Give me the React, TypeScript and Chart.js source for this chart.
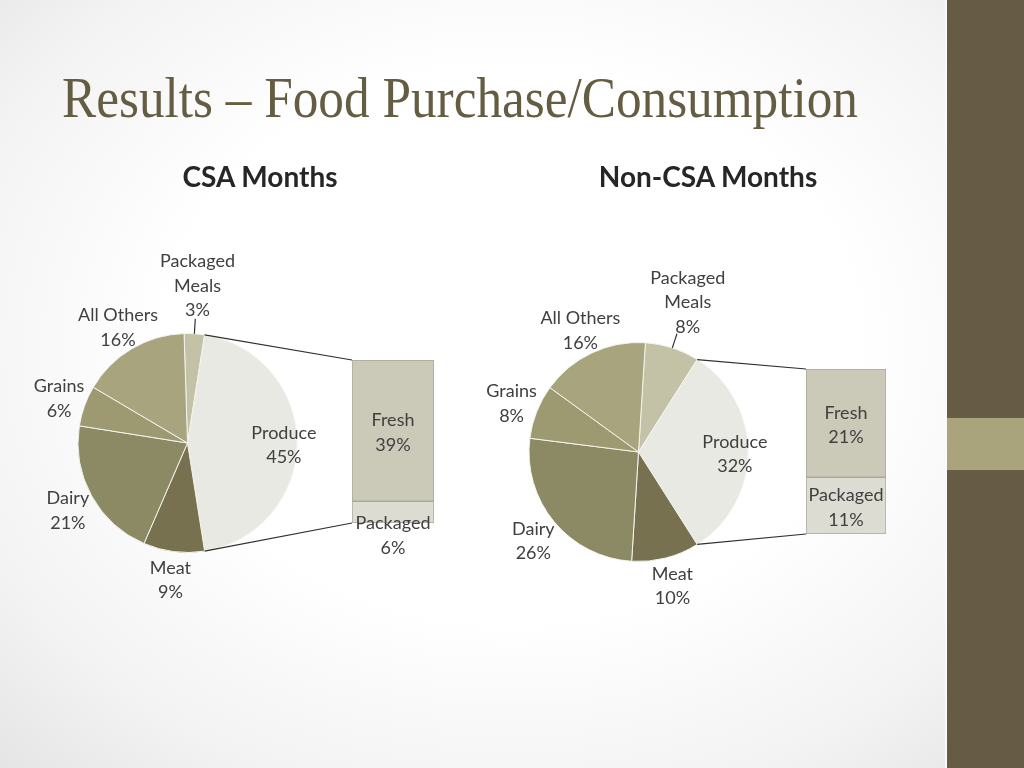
import React, { useEffect, useLayoutEffect, useRef } from 'react';
import { Chart, registerables } from 'chart.js';

Chart.register(...registerables);

// ---------- data ----------
const TITLE = 'Results – Food Purchase/Consumption';
const CHART_TITLES = ['CSA Months', 'Non-CSA Months'];
const CATEGORIES = ['Packaged Meals', 'Produce', 'Meat', 'Dairy', 'Grains', 'All Others'];
const CSA_VALUES = [3, 45, 9, 21, 6, 16];
const NON_CSA_VALUES = [8, 32, 10, 26, 8, 16];
const PRODUCE_PARTS = ['Fresh', 'Packaged'];
const CSA_PRODUCE_VALUES = [39, 6];
const NON_CSA_PRODUCE_VALUES = [21, 11];
const SPLIT_CATEGORY = 'Produce';

// ---------- style ----------
const W = 1024;
const H = 768;
const SLICE_COLORS = ['#c3c2a7', '#e9e9e4', '#77714f', '#8b8a64', '#9d9a72', '#a8a47d'];
const PART_COLORS = ['#cbc9b8', '#dddcd2'];
const LABEL_FONT = '18px Lato';
const LABEL_COLOR = '#404040';
const LINE_H = 24.5;

const GROUPS = [
  {
    title: CHART_TITLES[0],
    values: CSA_VALUES,
    parts: CSA_PRODUCE_VALUES,
    titleX: 260,
    pie: { left: 77.5, top: 333, size: 220 },
    bar: { left: 352, top: 360, width: 82, height: 163 },
  },
  {
    title: CHART_TITLES[1],
    values: NON_CSA_VALUES,
    parts: NON_CSA_PRODUCE_VALUES,
    titleX: 708,
    pie: { left: 528.5, top: 342, size: 220 },
    bar: { left: 806, top: 369, width: 80, height: 165 },
  },
];

function wrapName(name: string): string[] {
  if (name.length > 10 && name.includes(' ')) return name.split(' ');
  return [name];
}

function drawLines(ctx: CanvasRenderingContext2D, lines: string[], cx: number, cy: number) {
  const top = cy - (lines.length * LINE_H) / 2;
  lines.forEach((l, i) => ctx.fillText(l, cx, top + LINE_H * (i + 0.5)));
}

function PieOfBar({ group }: { group: (typeof GROUPS)[number] }) {
  const pieRef = useRef<HTMLCanvasElement>(null);
  const barRef = useRef<HTMLCanvasElement>(null);

  useEffect(() => {
    const splitIndex = CATEGORIES.indexOf(SPLIT_CATEGORY);
    const total = group.values.reduce((a, b) => a + b, 0);
    const before = group.values.slice(0, splitIndex).reduce((a, b) => a + b, 0);
    const rotation = 90 - ((before + group.values[splitIndex] / 2) / total) * 360;
    const partTotal = group.parts.reduce((a, b) => a + b, 0);

    // ---- bar (stacked) ----
    const order = PRODUCE_PARTS.map((_, i) => i).reverse();
    const barLabelPlugin = {
      id: 'barLabels',
      afterDatasetsDraw(chart: any) {
        const ctx = chart.ctx as CanvasRenderingContext2D;
        ctx.save();
        ctx.font = LABEL_FONT;
        ctx.fillStyle = LABEL_COLOR;
        ctx.textAlign = 'center';
        ctx.textBaseline = 'middle';
        chart.data.datasets.forEach((ds: any, di: number) => {
          const el = chart.getDatasetMeta(di).data[0] as any;
          const segTop = Math.min(el.y, el.base);
          const segBot = Math.max(el.y, el.base);
          const lines = [ds.label, ds.data[0] + '%'];
          const th = lines.length * LINE_H;
          let cy = (segTop + segBot) / 2;
          if (th > segBot - segTop) cy = segTop + 8 + th / 2;
          drawLines(ctx, lines, el.x, cy + 2);
        });
        ctx.restore();
      },
    };
    const bar = new Chart(barRef.current!, {
      type: 'bar',
      data: {
        labels: [SPLIT_CATEGORY],
        datasets: order.map((i) => ({
          label: PRODUCE_PARTS[i],
          data: [group.parts[i]],
          backgroundColor: PART_COLORS[i],
          borderColor: '#a9a899',
          borderWidth: 1,
          borderSkipped: false,
          barPercentage: 1,
          categoryPercentage: 1,
        })),
      },
      options: {
        responsive: false,
        animation: false,
        events: [],
        layout: {
          padding: {
            left: group.bar.left,
            top: group.bar.top,
            right: W - group.bar.left - group.bar.width,
            bottom: H - group.bar.top - group.bar.height,
          },
        },
        scales: {
          x: { stacked: true, display: false },
          y: { stacked: true, display: false, min: 0, max: partTotal },
        },
        plugins: { legend: { display: false }, tooltip: { enabled: false } },
      },
      plugins: [barLabelPlugin],
    });

    // ---- pie ----
    const pieExtras = {
      id: 'pieExtras',
      afterDatasetsDraw(chart: any) {
        const ctx = chart.ctx as CanvasRenderingContext2D;
        const meta = chart.getDatasetMeta(0);
        const vals = chart.data.datasets[0].data as number[];
        const labels = chart.data.labels as string[];
        ctx.save();
        // connector lines from the split slice to the bar stack
        const arc = meta.data[splitIndex] as any;
        const { x, y, startAngle, endAngle, outerRadius } = arc;
        const xs = bar.scales.x as any;
        const ys = bar.scales.y as any;
        const barLeft = xs.left;
        const barTop = ys.getPixelForValue(partTotal);
        const barBottom = ys.getPixelForValue(0);
        ctx.strokeStyle = '#2f2f2f';
        ctx.lineWidth = 1.2;
        ctx.beginPath();
        ctx.moveTo(x + outerRadius * Math.cos(startAngle), y + outerRadius * Math.sin(startAngle));
        ctx.lineTo(barLeft, barTop);
        ctx.moveTo(x + outerRadius * Math.cos(endAngle), y + outerRadius * Math.sin(endAngle));
        ctx.lineTo(barLeft, barBottom);
        ctx.stroke();

        // data labels
        ctx.font = LABEL_FONT;
        ctx.fillStyle = LABEL_COLOR;
        ctx.textAlign = 'center';
        ctx.textBaseline = 'middle';
        meta.data.forEach((a: any, i: number) => {
          const mid = (a.startAngle + a.endAngle) / 2;
          const lines = [...wrapName(labels[i]), vals[i] + '%'];
          const inside = vals[i] >= 30;
          const dist = inside ? a.outerRadius * 0.88 : a.outerRadius - 19 + lines.length * 23;
          const cx = a.x + dist * Math.cos(mid);
          const cy = a.y + dist * Math.sin(mid);
          drawLines(ctx, lines, cx, cy + 2);
          if (!inside && lines.length > 2) {
            ctx.beginPath();
            ctx.lineWidth = 1.2;
            ctx.strokeStyle = '#2f2f2f';
            ctx.moveTo(a.x + a.outerRadius * Math.cos(mid), a.y + a.outerRadius * Math.sin(mid));
            ctx.lineTo(a.x + (a.outerRadius + 15) * Math.cos(mid), a.y + (a.outerRadius + 15) * Math.sin(mid));
            ctx.stroke();
          }
        });
        ctx.restore();
      },
    };
    const pie = new Chart(pieRef.current!, {
      type: 'pie',
      data: {
        labels: CATEGORIES,
        datasets: [
          {
            data: group.values,
            backgroundColor: SLICE_COLORS,
            borderColor: '#f4f3ec',
            borderWidth: 1,
          },
        ],
      },
      options: {
        responsive: false,
        animation: false,
        events: [],
        rotation,
        layout: {
          padding: {
            left: group.pie.left,
            top: group.pie.top,
            right: W - group.pie.left - group.pie.size,
            bottom: H - group.pie.top - group.pie.size,
          },
        },
        plugins: { legend: { display: false }, tooltip: { enabled: false } },
      },
      plugins: [pieExtras],
    });

    return () => {
      pie.destroy();
      bar.destroy();
    };
  }, [group]);

  const abs: React.CSSProperties = { position: 'absolute', left: 0, top: 0, width: W, height: H };
  return (
    <>
      <canvas ref={pieRef} width={W} height={H} style={abs} />
      <canvas ref={barRef} width={W} height={H} style={abs} />
      <div
        style={{
          position: 'absolute',
          left: group.titleX - 150,
          width: 300,
          top: 159,
          lineHeight: '30px',
          textAlign: 'center',
          font: 'bold 28px Lato',
          color: '#262626',
        }}
      >
        {group.title}
      </div>
    </>
  );
}

export default function App() {
  const titleRef = useRef<HTMLSpanElement>(null);

  useLayoutEffect(() => {
    document.body.style.margin = '0';
    const fit = () => {
      const el = titleRef.current;
      if (!el) return;
      el.style.transform = 'none';
      const w = el.getBoundingClientRect().width;
      if (w > 0) el.style.transform = `scaleX(${796 / w})`;
    };
    fit();
    (document as any).fonts?.ready?.then(fit);
  }, []);

  return (
    <div
      style={{
        position: 'fixed',
        left: 0,
        top: 0,
        width: W,
        height: H,
        overflow: 'hidden',
        background: 'radial-gradient(ellipse 75% 80% at 50% 45%, #ffffff 45%, #f3f3f3 75%, #e2e2e2 100%)',
      }}
    >
      <span
        ref={titleRef}
        style={{
          position: 'absolute',
          left: 62,
          top: 69,
          font: '57px "Liberation Serif"',
          lineHeight: '57px',
          color: '#655d42',
          whiteSpace: 'nowrap',
          display: 'inline-block',
          transformOrigin: 'left top',
        }}
      >
        {TITLE}
      </span>
      {GROUPS.map((g, i) => (
        <PieOfBar key={i} group={g} />
      ))}
      <div style={{ position: 'absolute', left: 945, top: 0, width: 2, height: H, background: '#fafafa' }} />
      <div style={{ position: 'absolute', left: 947, top: 0, width: 77, height: H, background: '#665b45' }} />
      <div style={{ position: 'absolute', left: 947, top: 418, width: 77, height: 52, background: '#a9a47c' }} />
    </div>
  );
}
